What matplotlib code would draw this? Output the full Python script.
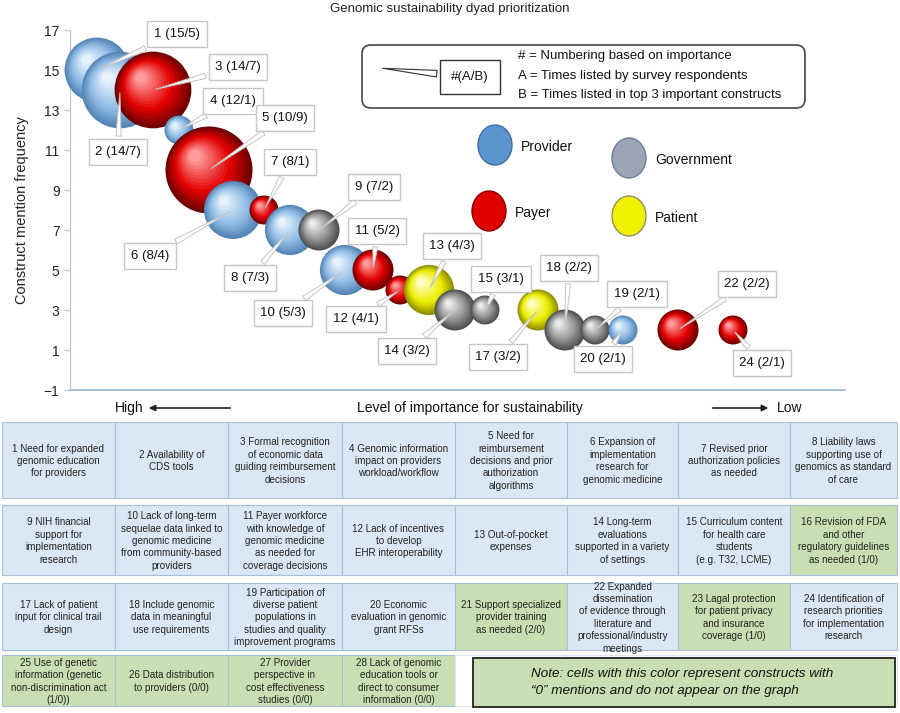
import numpy as np
import matplotlib.pyplot as plt
from matplotlib.patches import Rectangle, FancyBboxPatch, Ellipse
from matplotlib.colors import to_rgb

plt.rcParams['font.family'] = ['Liberation Sans', 'DejaVu Sans']

# constructs that appear on the graph
ids = [1, 2, 3, 4, 5, 6, 7, 8, 9, 10, 11, 12, 13, 14, 15, 17, 18, 19, 20, 22, 24]
times_listed = [15, 14, 14, 12, 10, 8, 8, 7, 7, 5, 5, 4, 4, 3, 3, 3, 2, 2, 2, 2, 2]
top3_listed = [5, 7, 7, 1, 9, 4, 1, 3, 2, 3, 2, 1, 3, 2, 1, 2, 2, 1, 1, 2, 1]
importance_pos = [27, 50, 83, 109, 139, 163, 194, 220, 249, 275, 303, 330, 359, 385, 415,
                  468, 495, 525, 553, 608, 663]
stakeholder = ['Provider', 'Provider', 'Payer', 'Provider', 'Payer', 'Provider', 'Payer',
               'Provider', 'Government', 'Provider', 'Payer', 'Payer', 'Patient', 'Government',
               'Government', 'Patient', 'Government', 'Government', 'Provider', 'Payer', 'Payer']

# callout box offsets from bubble centre (pixels, right / down)
label_offsets = [(80, -36), (-2, 62), (85, -23), (54, -29), (76, -52), (-83, 46), (26, -48),
                 (-40, 48), (55, -43), (-62, 43), (4, -39), (-44, 29), (23, -44), (-48, 41),
                 (16, -31), (-40, 47), (4, -62), (42, -36), (-20, 29), (69, -46), (29, 33)]

# table of all constructs
construct_text = [
    "1 Need for expanded\ngenomic education\nfor providers",
    "2 Availability of\nCDS tools",
    "3 Formal recognition\nof economic data\nguiding reimbursement\ndecisions",
    "4 Genomic information\nimpact on providers\nworkload/workflow",
    "5 Need for\nreimbursement\ndecisions and prior\nauthorization\nalgorithms",
    "6 Expansion of\nimplementation\nresearch for\ngenomic medicine",
    "7 Revised prior\nauthorization policies\nas needed",
    "8 Liability laws\nsupporting use of\ngenomics as standard\nof care",
    "9 NIH financial\nsupport for\nimplementation\nresearch",
    "10 Lack of long-term\nsequelae data linked to\ngenomic medicine\nfrom community-based\nproviders",
    "11 Payer workforce\nwith knowledge of\ngenomic medicine\nas needed for\ncoverage decisions",
    "12 Lack of incentives\nto develop\nEHR interoperability",
    "13 Out-of-pocket\nexpenses",
    "14 Long-term\nevaluations\nsupported in a variety\nof settings",
    "15 Curriculum content\nfor health care\nstudents\n(e.g. T32, LCME)",
    "16 Revision of FDA\nand other\nregulatory guidelines\nas needed (1/0)",
    "17 Lack of patient\ninput for clinical trail\ndesign",
    "18 Include genomic\ndata in meaningful\nuse requirements",
    "19 Participation of\ndiverse patient\npopulations in\nstudies and quality\nimprovement programs",
    "20 Economic\nevaluation in genomic\ngrant RFSs",
    "21 Support specialized\nprovider training\nas needed (2/0)",
    "22 Expanded\ndissemination\nof evidence through\nliterature and\nprofessional/industry\nmeetings",
    "23 Lagal protection\nfor patient privacy\nand insurance\ncoverage (1/0)",
    "24 Identification of\nresearch priorities\nfor implementation\nresearch",
    "25 Use of genetic\ninformation (genetic\nnon-discrimination act\n(1/0))",
    "26 Data distribution\nto providers (0/0)",
    "27 Provider\nperspective in\ncost effectiveness\nstudies (0/0)",
    "28 Lack of genomic\neducation tools or\ndirect to consumer\ninformation (0/0)",
]
zero_mention = [16, 21, 23, 25, 26, 27, 28]

# (dark rim, body, highlight)
palette = {
    'Provider': ('#5585b5', '#8fbce5', '#e6f2fc'),
    'Payer': ('#6e0000', '#e30000', '#ff9c9c'),
    'Government': ('#4e4e4e', '#939393', '#ebebeb'),
    'Patient': ('#8f8f00', '#eded00', '#ffffc8'),
}

fig = plt.figure(figsize=(9, 7.13), dpi=100)
W, H = 900, 713

# overlay in pixel coordinates for table / legend / text
ov = fig.add_axes([0, 0, 1, 1])
ov.set_xlim(0, W)
ov.set_ylim(H, 0)
ov.axis('off')
ov.set_zorder(0)

ax = fig.add_axes([70 / W, 1 - 390 / H, 775 / W, 360 / H])
ax.set_zorder(1)
ax.patch.set_visible(False)
ax.set_xlim(0, 775)
ax.set_ylim(-1, 17)
ax.set_xticks([])
ax.set_yticks(range(-1, 18, 2))
for s in ['top', 'right']:
    ax.spines[s].set_visible(False)
ax.spines['left'].set_color('#b9c4d2')
ax.spines['bottom'].set_color('#9bb7d8')
ax.spines['bottom'].set_linewidth(1.3)
ax.tick_params(axis='y', colors='#b9c4d2', labelcolor='#222222', labelsize=10, length=4)
ax.set_ylabel('Construct mention frequency', fontsize=10.5, color='#222222', labelpad=11)

# pixels per data unit
p0 = ax.transData.transform((0, 0))
p1 = ax.transData.transform((1, 1))
px_x, px_y = p1[0] - p0[0], p1[1] - p0[1]


def mix(c1, c2, t):
    a, b = np.array(to_rgb(c1)), np.array(to_rgb(c2))
    return tuple(a + (b - a) * t)


n_layers = 16
for i in range(len(ids)):
    dark, body, light = palette[stakeholder[i]]
    r = 14.5 * np.sqrt(top3_listed[i])
    t = np.linspace(0, 1, n_layers)
    f = 1 - 0.86 * t
    xs = importance_pos[i] - 0.32 * r * t / px_x
    ys = times_listed[i] + 0.32 * r * t / px_y
    sizes = (2 * r * f * 0.72) ** 2
    cols = [mix(dark, body, tt / 0.4) if tt < 0.4 else mix(body, light, (tt - 0.4) / 0.6) for tt in t]
    ax.scatter(xs, ys, s=sizes, c=cols, linewidths=0, zorder=10 + i, clip_on=False)

for i in range(len(ids)):
    dx, dy = label_offsets[i]
    ax.annotate(f'{ids[i]} ({times_listed[i]}/{top3_listed[i]})',
                xy=(importance_pos[i], times_listed[i]), xytext=(dx * 0.72, -dy * 0.72),
                textcoords='offset points', ha='center', va='center', fontsize=9.5,
                color='#111111', zorder=60,
                bbox=dict(boxstyle='square,pad=0.5', fc='white', ec='#c6c6c6', lw=1),
                arrowprops=dict(arrowstyle='wedge,tail_width=0.4,shrink_factor=0.5',
                                fc='white', ec='#c4c4c4', lw=0.7))

# title
ov.text(450, 9, 'Genomic sustainability dyad prioritization', ha='center', va='center',
        fontsize=9.5, color='#222222')

# key box
ov.add_patch(FancyBboxPatch((362, 45), 443, 63, boxstyle='round,pad=0,rounding_size=9',
                            fc='white', ec='#444444', lw=1.2))
ov.annotate('#(A/B)', xy=(380, 68), xytext=(470, 77), textcoords='data', ha='center',
            va='center', fontsize=9.5, color='#111111',
            bbox=dict(boxstyle='square,pad=0.85', fc='white', ec='#333333', lw=1),
            arrowprops=dict(arrowstyle='wedge,tail_width=0.5,shrink_factor=0.5',
                            fc='white', ec='#333333', lw=0.8))
key_lines = ['# = Numbering based on importance', 'A = Times listed by survey respondents',
             'B = Times listed in top 3 important constructs']
for k, line in enumerate(key_lines):
    ov.text(518, 56 + k * 19.5, line, ha='left', va='center', fontsize=9.5, color='#111111')

# stakeholder legend
legend_items = [('Provider', 495, 145, '#5b94cf', '#3e6e9e'),
                ('Government', 629, 158, '#9aa6b6', '#6d7f99'),
                ('Payer', 489, 211, '#e00000', '#8a0000'),
                ('Patient', 629, 216, '#f2f200', '#8a8f60')]
for name, ex, ey, fc, ec in legend_items:
    ov.add_patch(Ellipse((ex, ey), 34, 40, fc=fc, ec=ec, lw=1))
    ov.text(ex + 26, ey + 2, name, ha='left', va='center', fontsize=10, color='#111111')

# importance direction
ov.text(115, 408, 'High', ha='left', va='center', fontsize=10, color='#111111')
ov.annotate('', xy=(146, 408), xytext=(233, 408),
            arrowprops=dict(arrowstyle='-|>', color='#222222', lw=1.2, mutation_scale=9))
ov.text(470, 408, 'Level of importance for sustainability', ha='center', va='center',
        fontsize=10, color='#111111')
ov.annotate('', xy=(771, 408), xytext=(710, 408),
            arrowprops=dict(arrowstyle='-|>', color='#222222', lw=1.2, mutation_scale=9))
ov.text(777, 408, 'Low', ha='left', va='center', fontsize=10, color='#111111')

# construct table
col_edges = [2, 115, 228, 342, 455, 567, 678, 790, 897]
row_edges = [(422, 498), (505, 575), (583, 650), (655, 706)]
blue_fc, green_fc, grid_c = '#dae7f4', '#c7dfb3', '#a8bfdb'
for r, (y0, y1) in enumerate(row_edges):
    for c in range(8):
        x0, x1 = col_edges[c], col_edges[c + 1]
        k = r * 8 + c
        if k < len(construct_text):
            fc = green_fc if (k + 1) in zero_mention else blue_fc
            ov.add_patch(Rectangle((x0, y0), x1 - x0, y1 - y0, fc=fc, ec=grid_c, lw=0.8))
            ov.text((x0 + x1) / 2, (y0 + y1) / 2 + 1, construct_text[k], ha='center',
                    va='center', fontsize=7.1, linespacing=1.3, color='#222222')
        else:
            ov.add_patch(Rectangle((x0, y0), x1 - x0, y1 - y0, fc='white', ec='#dfe7f1', lw=0.8))

ov.add_patch(Rectangle((473, 658), 422, 49, fc=green_fc, ec='#222222', lw=1.3, zorder=5))
ov.text(531, 674, 'Note: cells with this color represent constructs with', ha='left',
        va='center', fontsize=9.7, style='italic', color='#111111', zorder=6)
ov.text(531, 691, '\u201c0\u201d mentions and do not appear on the graph', ha='left',
        va='center', fontsize=9.7, style='italic', color='#111111', zorder=6)

fig.savefig('out.png', dpi=100)
